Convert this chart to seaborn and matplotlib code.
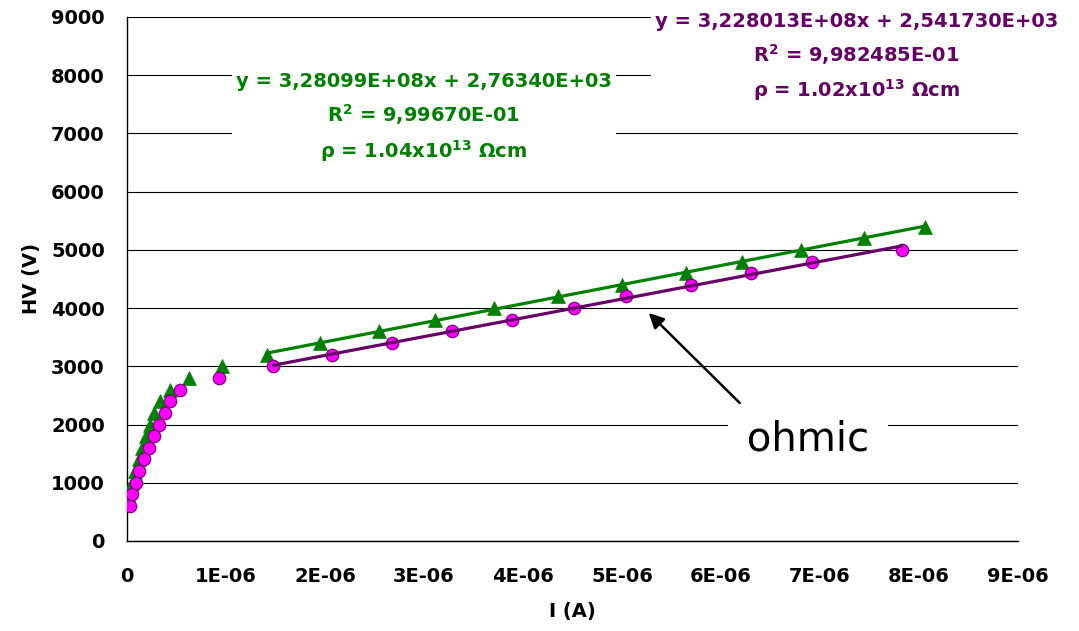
import numpy as np
import matplotlib
matplotlib.use("Agg")
import matplotlib.pyplot as plt
import seaborn as sns

# --- measured data -------------------------------------------------------
# sample 1 (green triangles): current in A, high voltage in V
green_current = [0.010e-6, 0.053e-6, 0.084e-6, 0.118e-6, 0.150e-6, 0.189e-6,
                 0.235e-6, 0.268e-6, 0.333e-6, 0.439e-6, 0.631e-6, 0.963e-6,
                 1.411e-6, 1.949e-6, 2.548e-6, 3.111e-6, 3.707e-6, 4.357e-6,
                 5.000e-6, 5.646e-6, 6.209e-6, 6.805e-6, 7.444e-6, 8.061e-6]
green_hv = [800, 1000, 1200, 1400, 1600, 1800, 2000, 2200, 2400, 2600, 2800, 3000,
            3200, 3400, 3600, 3800, 4000, 4200, 4400, 4600, 4800, 5000, 5200, 5400]

# sample 2 (magenta circles)
magenta_current = [0.030e-6, 0.054e-6, 0.091e-6, 0.124e-6, 0.169e-6, 0.219e-6,
                   0.276e-6, 0.326e-6, 0.387e-6, 0.437e-6, 0.532e-6, 0.929e-6,
                   1.478e-6, 2.068e-6, 2.674e-6, 3.280e-6, 3.886e-6, 4.515e-6,
                   5.037e-6, 5.694e-6, 6.300e-6, 6.920e-6, 7.825e-6]
magenta_hv = [600, 800, 1000, 1200, 1400, 1600, 1800, 2000, 2200, 2400, 2600, 2800,
              3000, 3200, 3400, 3600, 3800, 4000, 4200, 4400, 4600, 4800, 5000]

# linear fits in the ohmic region (I > 1.2 uA)
ohmic_threshold = 1.2e-6
green_slope, green_intercept = 3.28099e8, 2.76340e3
magenta_slope, magenta_intercept = 3.228013e8, 2.541730e3

green_label = "y = 3,28099E+08x + 2,76340E+03\nR$^{2}$ = 9,99670E-01\nρ = 1.04x10$^{13}$ Ωcm"
magenta_label = "y = 3,228013E+08x + 2,541730E+03\nR$^{2}$ = 9,982485E-01\nρ = 1.02x10$^{13}$ Ωcm"

x_ticks = [0, 1e-6, 2e-6, 3e-6, 4e-6, 5e-6, 6e-6, 7e-6, 8e-6, 9e-6]
x_tick_labels = ["0", "1E-06", "2E-06", "3E-06", "4E-06", "5E-06",
                 "6E-06", "7E-06", "8E-06", "9E-06"]
y_ticks = [0, 1000, 2000, 3000, 4000, 5000, 6000, 7000, 8000, 9000]

GREEN = "#008000"
PURPLE = "#660066"
MAGENTA = "#FF00FF"

# --- styling -------------------------------------------------------------
sns.set_style("white")
plt.rcParams["font.family"] = ["DejaVu Sans"]
plt.rcParams["mathtext.default"] = "bf"
plt.rcParams["text.color"] = "black"
plt.rcParams["axes.labelcolor"] = "black"

fig = plt.figure(figsize=(10.79, 6.31), dpi=100)
ax = fig.add_axes([127 / 1079, 90 / 631, 891 / 1079, 524 / 631])

gi = np.array(green_current)
gv = np.array(green_hv)
mi = np.array(magenta_current)
mv = np.array(magenta_hv)

sns.scatterplot(x=gi, y=gv, ax=ax, marker="^", s=100, color=GREEN,
                edgecolor=GREEN, linewidth=0.5, zorder=3, legend=False)
sns.scatterplot(x=mi, y=mv, ax=ax, marker="o", s=80, color=MAGENTA,
                edgecolor="#800080", linewidth=0.9, zorder=4, legend=False)

g_ohm = gi[gi > ohmic_threshold]
m_ohm = mi[mi > ohmic_threshold]
sns.lineplot(x=g_ohm, y=green_slope * g_ohm + green_intercept, ax=ax,
             color=GREEN, linewidth=2.3, estimator=None, zorder=5)
sns.lineplot(x=m_ohm, y=magenta_slope * m_ohm + magenta_intercept, ax=ax,
             color=PURPLE, linewidth=2.3, estimator=None, zorder=5)

ax.set_xlim(0, 9e-6)
ax.set_ylim(0, 9000)
ax.set_xticks(x_ticks)
ax.set_xticklabels(x_tick_labels)
ax.set_yticks(y_ticks)
ax.set_yticklabels([str(v) for v in y_ticks])

ax.grid(axis="y", color="black", linewidth=0.8)
ax.set_axisbelow(True)
for side in ("top", "right"):
    ax.spines[side].set_visible(False)
for side in ("left", "bottom"):
    ax.spines[side].set_color("black")
    ax.spines[side].set_linewidth(1.0)

ax.tick_params(axis="both", direction="out", length=5, width=1, color="black",
               labelsize=14, labelcolor="black")
ax.tick_params(axis="x", pad=14)
ax.tick_params(axis="y", pad=11)
for lab in ax.get_xticklabels() + ax.get_yticklabels():
    lab.set_fontweight("bold")

ax.set_xlabel("I (A)", fontsize=14, fontweight="bold", color="black")
ax.set_ylabel("HV (V)", fontsize=14, fontweight="bold", color="black")
ax.xaxis.set_label_coords(0.5, -0.117)
ax.yaxis.set_label_coords(-0.096, 0.5)

box = dict(boxstyle="square,pad=0.2", facecolor="white", edgecolor="none")
ax.text(0.3333, 0.807, green_label, transform=ax.transAxes, ha="center",
        va="center", fontsize=14, fontweight="bold", color=GREEN,
        linespacing=1.55, multialignment="center", bbox=box, zorder=6)
ax.text(0.8187, 0.9227, magenta_label, transform=ax.transAxes, ha="center",
        va="center", fontsize=14, fontweight="bold", color=PURPLE,
        linespacing=1.55, multialignment="center", bbox=box, zorder=6)

ax.annotate("", xy=(5.27e-6, 3916), xytext=(6.19e-6, 2370),
            arrowprops=dict(arrowstyle="-|>,head_length=0.9,head_width=0.45",
                            color="black", lw=1.8, shrinkA=0, shrinkB=0),
            zorder=6)
ax.text(6.88e-6, 1735, " ohmic ", ha="center", va="center", fontsize=29,
        color="black",
        bbox=dict(boxstyle="square,pad=0.15", facecolor="white", edgecolor="none"),
        zorder=6)

fig.savefig("out.png", dpi=100)
